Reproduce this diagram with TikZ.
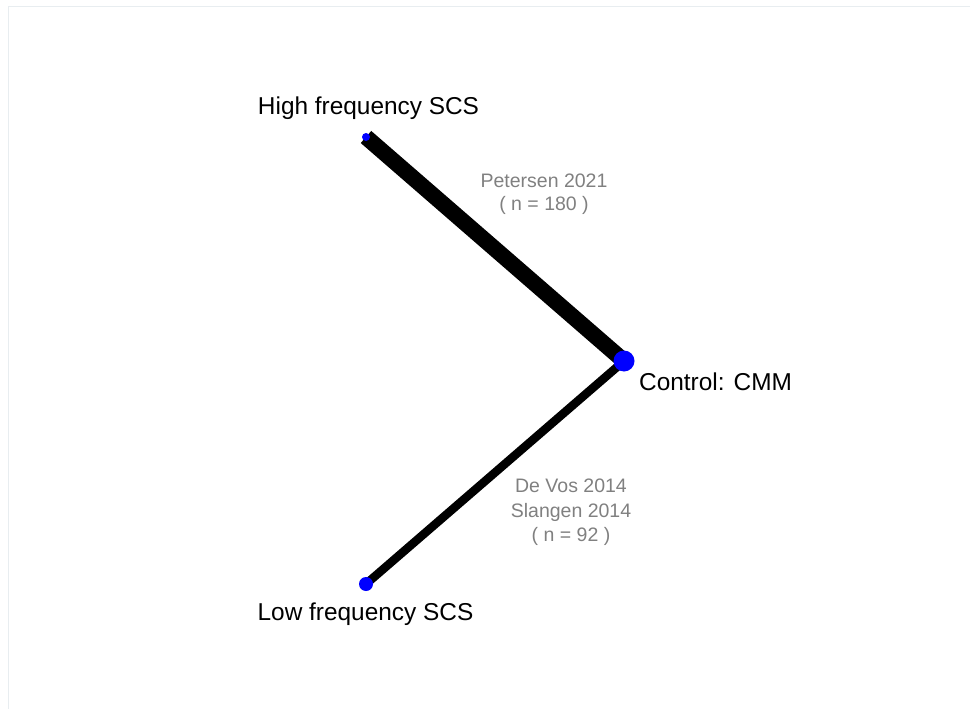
\documentclass[tikz,border=0pt]{standalone}
\usepackage{fontspec}
\setmainfont{Liberation Sans}
\usetikzlibrary{backgrounds}
\definecolor{frame}{RGB}{232,237,240}
\definecolor{study}{RGB}{128,128,128}

\begin{document}
\begin{tikzpicture}[x=1pt, y=-1pt,
    dot/.style={circle,fill=blue,inner sep=0pt,minimum size=#1},
    treat/.style={inner sep=0pt,anchor=base,font=\fontsize{24.4}{28}\selectfont},
    trial/.style={inner sep=0pt,anchor=north,align=center,text=study,font=\fontsize{19.5}{23}\selectfont},
    edge/.style={line width=#1,line cap=butt}]

    \useasboundingbox (0,0) rectangle (970,709);
    \draw[frame,line width=1.5pt] (8.5,709) |- (970,6.5);

    % treatments
    \node[dot=8pt]  (hf)  at (366,137) {};
    \node[dot=21pt] (cmm) at (624,361) {};
    \node[dot=14pt] (lf)  at (366,584) {};

    \node[treat] (hflab)  at (368.5,114) {High frequency SCS};
    \node[treat,anchor=base west] (cmmlab) at (639,390) {Control: CMM};
    \node[treat] (lflab)  at (365.5,620) {Low frequency SCS};

    % comparisons, width by number of patients
    \begin{pgfonlayer}{background}
        \draw[edge=16pt] (hf.center) -- (cmm.center);
        \draw[edge=8.5pt] (lf.center) -- (cmm.center);
    \end{pgfonlayer}

    \node[trial] (hfcmm) at (544,174) {Petersen 2021\\( n = 180 )};
    \node[trial,font=\fontsize{19.5}{24.5}\selectfont] (lfcmm) at (571,479) {De Vos 2014\\Slangen 2014\\( n = 92 )};
\end{tikzpicture}
\end{document}
